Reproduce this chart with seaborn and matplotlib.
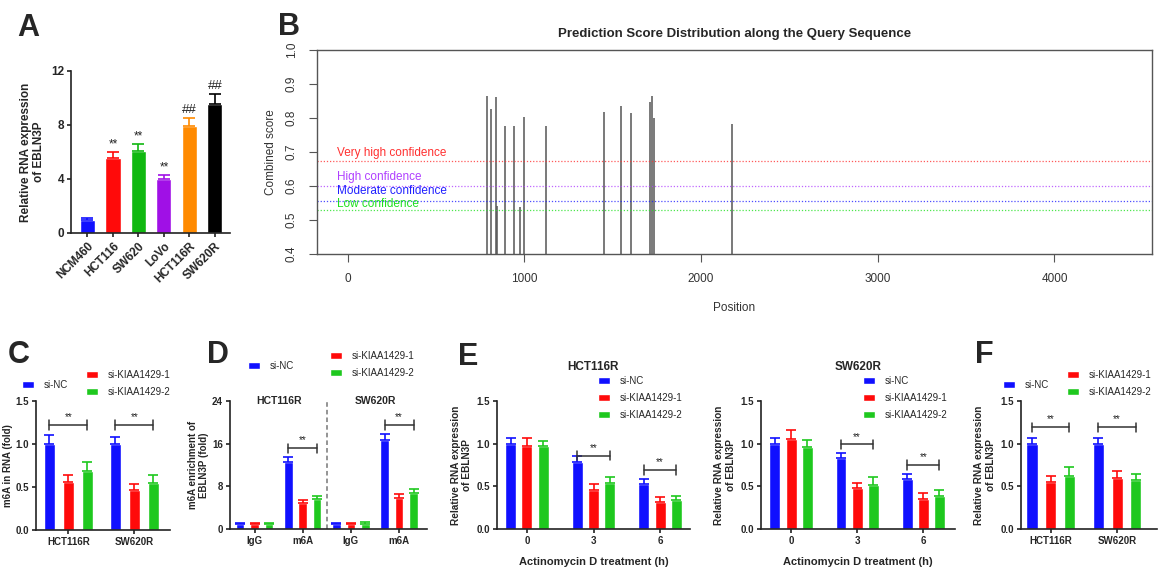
import numpy as np
import pandas as pd
import matplotlib
matplotlib.use("Agg")
import matplotlib.pyplot as plt
import seaborn as sns

# ---- data ----
cell_lines = ["NCM460", "HCT116", "SW620", "LoVo", "HCT116R", "SW620R"]
a_mean = [0.95, 5.55, 6.05, 3.97, 7.92, 9.55]
a_err = [0.13, 0.45, 0.52, 0.32, 0.60, 0.72]
a_marks = ["", "**", "**", "**", "##", "##"]
a_colors = ["#1010ff", "#ff0a0a", "#10b810", "#a010e6", "#ff8a00", "#000000"]

b_pos = [787, 809, 839, 843, 888, 941, 973, 999, 1124, 1449, 1547, 1603, 1713, 1724, 1732, 2174]
b_score = [0.866, 0.826, 0.862, 0.542, 0.777, 0.777, 0.538, 0.803, 0.777,
           0.819, 0.836, 0.815, 0.848, 0.865, 0.801, 0.781]
b_thresh = [0.673, 0.600, 0.557, 0.528]
b_thresh_names = ["Very high confidence", "High confidence", "Moderate confidence", "Low confidence"]
b_thresh_label_y = [0.698, 0.627, 0.585, 0.547]
b_thresh_colors = ["#ff3030", "#b040ff", "#2020ff", "#20e020"]

groups = ["si-NC", "si-KIAA1429-1", "si-KIAA1429-2"]
grp_colors = ["#1010ff", "#ff0a0a", "#1ec81e"]

c_cats = ["HCT116R", "SW620R"]
c_nc, c_k1, c_k2 = [1.0, 1.0], [0.56, 0.46], [0.69, 0.55]
c_err = [[0.10, 0.08], [0.08, 0.07], [0.10, 0.09]]

d_keys = ["HCT116R IgG", "HCT116R m6A", "SW620R IgG", "SW620R m6A"]
d_ticks = ["IgG", "m6A", "IgG", "m6A"]
d_nc, d_k1, d_k2 = [0.95, 12.6, 0.95, 16.7], [0.95, 4.85, 0.9, 5.9], [0.9, 5.6, 1.0, 6.8]
d_err = [[0.25, 0.8, 0.2, 1.1], [0.25, 0.55, 0.2, 0.6], [0.2, 0.7, 0.3, 0.7]]

e_times = ["0", "3", "6"]
e1_nc, e1_k1, e1_k2 = [1.0, 0.785, 0.525], [0.975, 0.455, 0.32], [0.968, 0.545, 0.342]
e1_err = [[0.06, 0.07, 0.058], [0.09, 0.07, 0.06], [0.06, 0.06, 0.05]]
e2_nc, e2_k1, e2_k2 = [1.0, 0.83, 0.583], [1.05, 0.478, 0.354], [0.956, 0.517, 0.393]
e2_err = [[0.07, 0.065, 0.062], [0.11, 0.066, 0.066], [0.09, 0.09, 0.06]]

f_cats = ["HCT116R", "SW620R"]
f_nc, f_k1, f_k2 = [1.0, 1.0], [0.556, 0.6], [0.626, 0.575]
f_err = [[0.07, 0.06], [0.066, 0.076], [0.097, 0.07]]

# ---- setup ----
sns.set_style("ticks")
plt.rcParams['font.family'] = ['Liberation Sans', 'DejaVu Sans']
W, H = 1162, 570
fig = plt.figure(figsize=(W / 100, H / 100), dpi=100)


def px_axes(x0, y0, x1, y1):
    return fig.add_axes([x0 / W, 1 - y1 / H, (x1 - x0) / W, (y1 - y0) / H])


def prism_style(ax, fs=7):
    sns.despine(ax=ax)
    for s in ["left", "bottom"]:
        ax.spines[s].set_linewidth(1.2)
        ax.spines[s].set_color("#222222")
    ax.tick_params(width=1.2, length=3, labelsize=fs, color="#222222", pad=2)
    for lab in ax.get_xticklabels() + ax.get_yticklabels():
        lab.set_fontweight("bold")


def grouped(ax, cats, vals, errs, width, gap):
    n = len(cats)
    df = pd.DataFrame({"cat": cats * 3,
                       "grp": [g for g in groups for _ in range(n)],
                       "val": vals[0] + vals[1] + vals[2]})
    sns.barplot(data=df, x="cat", y="val", hue="grp", hue_order=groups, order=cats,
                palette=grp_colors, width=width, gap=gap, saturation=1,
                errorbar=None, ax=ax)
    leg = ax.get_legend()
    handles = leg.legend_handles
    leg.remove()
    centers = []
    for cont, v, e, col in zip(ax.containers, vals, errs, grp_colors):
        xs = [p.get_x() + p.get_width() / 2 for p in cont.patches]
        centers.append(xs)
        ax.errorbar(xs, v, yerr=[np.zeros(len(v)), e], fmt="none", ecolor=col,
                    elinewidth=1.2, capsize=3.5, capthick=1.2)
    ax.set_xlabel("")
    return handles, centers


def bracket(ax, x1, x2, y, d):
    kw = dict(color="#333333", lw=1.1, clip_on=False)
    ax.plot([x1, x2], [y, y], **kw)
    ax.plot([x1, x1], [y - d, y + d], **kw)
    ax.plot([x2, x2], [y - d, y + d], **kw)
    ax.text((x1 + x2) / 2, y + d * 0.6, "**", ha="center", va="bottom", fontsize=7, color="#222222")


def legends(handles, nc_xy, k_xy, single_col=False):
    kw = dict(frameon=False, fontsize=7, handlelength=1.2, handleheight=0.7,
              handletextpad=1.0, labelspacing=0.7, borderpad=0, borderaxespad=0,
              bbox_transform=fig.transFigure, loc="center left")
    if single_col:
        fig.legend(handles, groups, bbox_to_anchor=(nc_xy[0] / W, 1 - nc_xy[1] / H), **kw)
    else:
        fig.legend(handles[:1], groups[:1], bbox_to_anchor=(nc_xy[0] / W, 1 - nc_xy[1] / H), **kw)
        fig.legend(handles[1:], groups[1:], bbox_to_anchor=(k_xy[0] / W, 1 - k_xy[1] / H), **kw)


# ---- Panel A ----
axA = px_axes(71, 71, 230, 233)
dfA = pd.DataFrame({"cell": cell_lines, "expr": a_mean})
sns.barplot(data=dfA, x="cell", y="expr", hue="cell", order=cell_lines, hue_order=cell_lines,
            palette=a_colors, width=0.59, saturation=1, errorbar=None, legend=False, ax=axA)
for cont, m, e, col, mk in zip(axA.containers, a_mean, a_err, a_colors, a_marks):
    p = cont.patches[0]
    xc = p.get_x() + p.get_width() / 2
    axA.errorbar([xc], [m], yerr=[[0], [e]], fmt="none", ecolor=col, elinewidth=1.2,
                 capsize=4, capthick=1.2)
    if mk:
        axA.text(xc, m + e + 0.15, mk, ha="center", va="bottom",
                 fontsize=8.5 if mk == "**" else 9.5, color="#222222")
axA.set_xlim(-0.647, 5.59)
axA.set_ylim(0, 12)
axA.set_yticks([0, 4, 8, 12])
axA.set_xticks(range(len(cell_lines)))
axA.set_xticklabels(cell_lines, rotation=45, ha="right", rotation_mode="anchor")
axA.set_xlabel("")
axA.set_ylabel("Relative RNA expression\nof EBLN3P", fontsize=8.5, fontweight="bold", labelpad=4)
prism_style(axA, fs=8.5)

# ---- Panel B ----
axB = px_axes(317, 50, 1152, 254)
axB.vlines(b_pos, 0.4, b_score, colors="#555555", lw=1.1)
for t, name, ly, col in zip(b_thresh, b_thresh_names, b_thresh_label_y, b_thresh_colors):
    axB.axhline(t, ls=(0, (1, 1.5)), color=col, lw=0.9, alpha=0.8)
    axB.text(-62, ly, name, color=col, fontsize=8.5, ha="left", va="center")
axB.set_xlim(-174, 4552)
axB.set_ylim(0.4, 1.0)
axB.set_xticks([0, 1000, 2000, 3000, 4000])
axB.set_yticks([0.4, 0.5, 0.6, 0.7, 0.8, 0.9, 1.0])
axB.set_yticklabels([f"{v:.1f}" for v in [0.4, 0.5, 0.6, 0.7, 0.8, 0.9, 1.0]],
                    rotation=90, va="center")
for s in axB.spines.values():
    s.set_color("#555555")
    s.set_linewidth(1.0)
axB.tick_params(labelsize=8.5, labelcolor="#333333", color="#555555", length=6, pad=8)
axB.set_title("Prediction Score Distribution along the Query Sequence",
              fontsize=9.5, fontweight="bold", pad=9)
axB.set_xlabel("Position", fontsize=8.5, color="#333333", labelpad=12)
axB.set_ylabel("Combined score", fontsize=8.5, color="#333333", labelpad=6)

# ---- Panel C ----
axC = px_axes(36, 400.7, 170, 530)
hC, cC = grouped(axC, c_cats, [c_nc, c_k1, c_k2], c_err, width=0.864, gap=0.4)
axC.set_xlim(-0.49, 1.54)
axC.set_ylim(0, 1.5)
axC.set_yticks([0, 0.5, 1.0, 1.5])
axC.set_yticklabels(["0.0", "0.5", "1.0", "1.5"])
axC.set_ylabel("m6A in RNA (fold)", fontsize=7, fontweight="bold", labelpad=2)
for i in range(2):
    bracket(axC, cC[0][i], cC[2][i], 1.22, 0.055)
prism_style(axC)
legends(hC, (22, 385), (86, 383.5))

# ---- Panel D ----
axD = px_axes(230, 400.7, 427, 529.3)
hD, cD = grouped(axD, d_keys, [d_nc, d_k1, d_k2], d_err, width=0.9, gap=0.41)
axD.set_xlim(-0.51, 3.58)
axD.set_ylim(0, 24)
axD.set_yticks([0, 8, 16, 24])
axD.set_xticks(range(4))
axD.set_xticklabels(d_ticks)
axD.axvline(1.5, ls=(0, (3, 2)), color="#777777", lw=1.1)
axD.text(0.5, 24, "HCT116R", ha="center", va="center", fontsize=7.5, fontweight="bold")
axD.text(2.5, 24, "SW620R", ha="center", va="center", fontsize=7.5, fontweight="bold")
axD.set_ylabel("m6A enrichment of\nEBLN3P (fold)", fontsize=7, fontweight="bold", labelpad=2)
bracket(axD, cD[0][1], cD[2][1], 15.1, 0.9)
bracket(axD, cD[0][3], cD[2][3], 19.5, 0.9)
prism_style(axD)
legends(hD, (248, 366), (330, 364.5))

# ---- Panel E ----
for (x0, x1, xl, vals, errs, title, brk, legx) in [
        (497, 690, (-0.45, 2.45), [e1_nc, e1_k1, e1_k2], e1_err, "HCT116R", [0.86, 0.69], 598),
        (760.7, 955, (-0.46, 2.48), [e2_nc, e2_k1, e2_k2], e2_err, "SW620R", [0.99, 0.75], 863)]:
    axE = px_axes(x0, 400.7, x1, 529.3)
    hE, cE = grouped(axE, e_times, vals, errs, width=0.735, gap=0.33)
    axE.set_xlim(*xl)
    axE.set_ylim(0, 1.5)
    axE.set_yticks([0, 0.5, 1.0, 1.5])
    axE.set_yticklabels(["0.0", "0.5", "1.0", "1.5"])
    axE.set_ylabel("Relative RNA expression\nof EBLN3P", fontsize=7.3, fontweight="bold", labelpad=3)
    axE.set_xlabel("Actinomycin D treatment (h)", fontsize=8, fontweight="bold", labelpad=8)
    axE.text(0.5, 1.26, title, transform=axE.transAxes, ha="center", va="center",
             fontsize=8.5, fontweight="bold")
    for i, by in zip([1, 2], brk):
        bracket(axE, cE[0][i], cE[2][i], by, 0.055)
    prism_style(axE)
    legends(hE, (legx, 398), None, single_col=True)

# ---- Panel F ----
axF = px_axes(1020.7, 400.7, 1157, 529.3)
hF, cF = grouped(axF, f_cats, [f_nc, f_k1, f_k2], f_err, width=0.84, gap=0.4)
axF.set_xlim(-0.45, 1.6)
axF.set_ylim(0, 1.5)
axF.set_yticks([0, 0.5, 1.0, 1.5])
axF.set_yticklabels(["0.0", "0.5", "1.0", "1.5"])
axF.set_ylabel("Relative RNA expression\nof EBLN3P", fontsize=7.3, fontweight="bold", labelpad=3)
for i in range(2):
    bracket(axF, cF[0][i], cF[2][i], 1.19, 0.055)
prism_style(axF)
legends(hF, (1003, 385), (1067, 383.5))

# ---- panel letters ----
for letter, x, y in [("A", 17, 36), ("B", 278, 35), ("C", 8, 363),
                     ("D", 207, 363), ("E", 458, 365), ("F", 975, 363)]:
    fig.text(x / W, 1 - y / H, letter, fontsize=22, fontweight="bold", ha="left", va="baseline")

fig.savefig("out.png", dpi=100)
